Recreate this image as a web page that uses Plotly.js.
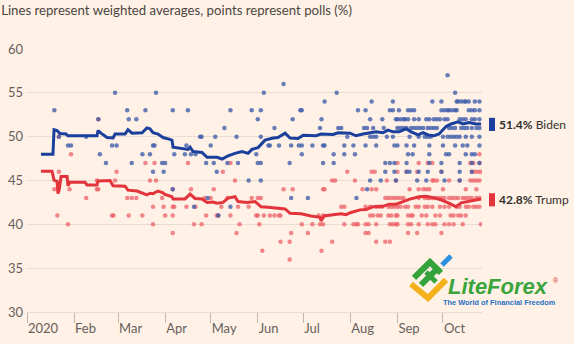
<!DOCTYPE html>
<html>
<head>
<meta charset="utf-8">
<script src="https://cdn.plot.ly/plotly-3.0.1.min.js"></script>
<style>html,body{margin:0;padding:0;background:#fff1e5;}#chart{width:574px;height:344px;}</style>
</head>
<body>
<div id="chart"></div>
<script>
// ---------- DATA (days since 1 Jan 2020, value in %) ----------
const tickMonths = ['2020-01-01','2020-02-01','2020-03-01','2020-04-01','2020-05-01','2020-06-01','2020-07-01','2020-08-01','2020-09-01','2020-10-01'];
const tickLabels = ['2020','Feb','Mar','Apr','May','Jun','Jul','Aug','Sep','Oct'];
const candidates = ['Biden','Trump'];
const finalValues = [51.4, 42.8];

const bidenAvgDays = [9.2,17.1,17.8,19.8,21.7,25.7,27,46.1,46.8,48.7,52.7,56.7,58,64.6,66.5,69.2,75.8,79,81,83,86.3,89.6,94.2,95.5,96.2,102.8,106.1,107.4,109.4,115.3,118.6,125.2,128.5,132.4,137,141.6,145.6,148.2,152.2,156.8,162.1,165.3,170,173.3,178.5,181.8,190.4,193.7,201.6,204.9,212.8,216.7,221.3,229.9,234.5,237.8,241.1,245.1,249.7,253,257.6,260.9,264.2,268.1,271.4,276,279.3,283.9,287.2,291.2,295.8,299.1];
const bidenAvgVals = [48.0,48.0,50.8,50.7,50.35,50.3,50.1,50.1,50.7,50.4,49.9,49.85,50.3,50.3,50.8,50.4,50.45,51.0,50.9,50.45,50.3,49.9,49.7,49.6,48.8,48.65,48.55,48.8,48.3,48.2,47.65,47.65,47.45,47.8,48.1,48.3,48.1,48.55,48.75,49.6,49.85,49.9,50.4,49.85,49.8,50.15,50.1,50.3,50.25,50.45,50.4,50.1,50.3,50.55,50.45,50.75,50.55,50.55,50.9,50.55,50.2,50.45,50.2,50.1,50.3,51.15,51.45,51.7,51.45,51.6,51.45,51.45];

const trumpAvgDays = [9.2,16.5,17.8,19.8,20.4,21.3,22.4,26.4,27,28.3,38.2,39.5,46.1,46.8,54.7,56.7,64.6,66.5,72.5,76.4,79,81,83,86.3,89.6,90.9,95.5,96.2,104.1,107.4,110.7,115.3,118.6,122.5,125.2,129.1,132.4,137,139,144.9,150.2,152.2,154.2,158.8,166.7,170,173.3,180.5,187.1,193,193.7,195.7,201.6,206.9,210.1,213.4,219.4,223.3,227.9,234.5,238.5,243.1,247.7,251.6,258.2,262.8,267.5,272.7,279.3,282.6,285.9,291.2,295.8,299.1];
const trumpAvgVals = [46.05,46.05,45.05,44.9,43.5,44.0,45.45,45.45,44.4,44.8,44.8,44.5,44.5,44.95,45.0,44.4,44.35,43.9,43.8,43.5,43.35,43.55,43.5,43.8,43.6,43.4,43.15,42.9,42.9,43.45,42.95,42.9,42.5,42.55,42.4,42.5,43.0,43.15,42.6,42.5,42.6,42.3,42.0,41.95,41.8,41.75,41.25,41.2,40.95,40.8,40.4,40.95,41.1,41.2,41.1,41.35,41.65,41.7,42.0,42.05,42.3,42.3,42.6,42.85,43.15,43.2,43.05,42.8,42.3,42.0,42.45,42.6,42.8,42.9];

const bidenPolls = [
[18,53],[21,50],[27,49],[29,49],[39,50],[47,52],[48,48],[52,47],[56,49],[58,55],[59,49],[66,53],[67,52],[69,47],[72,52],
[76,48],[78,53],[81,48],[83,49],[84,49],[83,46],[85,55],[89,47],[91,47],[90,46],[96,53],[96,44],[97,48],[104,48],[105,49],[106,53],[108,48],[111,48],[110,42],[114,50],[115,50],[118,47],[119,43],[121,49],[123,47],[124,50],[125,46],[126,41],[130,51],[132,47],[134,53],[134,42],[138,50],[139,47],[146,45],[148,53],
[151,48],[152,52],[152,47],[154,53],[154,50],[154,47],[154,45],[156,55],[159,49],[160,49],[163,51],[166,49],[169,56],[173,47],[174,49],[174,43],[175,52],[179,49],[180,53],[181,53],[181,49],[181,48],[185,43],[188,49],[193,51],[194,52],[195,49],[195,47],[196,49],[196,54],[202,48],[202,47],[204,55],[205,51],[207,51],[209,49],[209,48],[211,50],[215,49],[216,48],[217,43],[218,53],[222,51],[223,53],[223,49],
[277,57],[282,55],
[227,54],[241,54],[267,54],[273,54],[283,54],[284,54],[286,54],[288,54],[289,54],[291,54],[295,54],[298,54],
[239,53],[241,53],[245,53],[251,53],[253,53],[255,53],[273,53],[275,53],[277,53],[278,53],[280,53],[282,53],[283,53],[291,53],[293,53],[295,53],[298,53],
[226,52],[234,52],[243,52],[244,52],[246,52],[248,52],[249,52],[251,52],[255,52],[258,52],[263,52],[265,52],[268,52],[270,52],[272,52],[275,52],[277,52],[285,52],[287,52],[289,52],[293,52],[295,52],[298,52],
[224,51],[228,51],[235,51],[244,51],[246,51],[248,51],[250,51],[253,51],[255,51],[257,51],[259,51],[261,51],[264,51],[266,51],[268,51],[270,51],[278,51],[280,51],[282,51],[286,51],[288,51],[290,51],[293,51],[296,51],[298,51],
[226,50],[228,50],[230,50],[237,50],[241,50],[252,50],[258,50],[262,50],[264,50],[266,50],[274,50],[277,50],[279,50],[281,50],[283,50],[285,50],[289,50],[293,50],[298,50],
[230,49],[242,49],[244,49],[250,49],[255,49],[265,49],[274,49],[282,49],[287,49],[290,49],[298,49],
[251,48],[254,48],[265,48],[276,48],[278,48],[289,48],[293,48],[295,48],
[236,47],[239,47],[242,47],[250,47],[265,47],[273,47],[285,47],[293,47],[298,47],
[236,46],[242,46],[250,46],[252,46],[258,46],[264,46],[273,46],[285,46],[293,46],
[226,45],[233,45],[243,45],[257,45],[263,45],[275,45],[285,45],[224,44]
];

const trumpPolls = [
[47,52],[21,50],[29,48],[21,46],[59,46],[18,44],[28,44],[46,45],[46,44],[47,44],[58,45],[39,43],[66,43],[69,43],[72,43],[20,41],[56,41],[57,41],[67,41],[27,40],
[78,47],[84,47],[106,47],[134,47],[129,46],[81,45],[85,45],[137,45],[96,44],[108,44],[123,44],[89,43],[117,43],[121,43],[132,43],[148,43],[83,42],[90,42],[96,42],[97,42],[105,42],[111,42],[128,42],[139,42],[146,42],[76,41],[91,41],[96,41],[118,41],[125,41],[126,41],[134,41],[83,40],[110,40],[115,40],[140,40],[96,39],[138,39],
[211,46],[201,45],[203,45],[216,45],[169,44],[175,44],[195,44],[196,44],[221,44],[152,43],[154,43],[207,42],[209,42],[223,42],[151,41],[152,41],[156,41],[160,41],[163,41],[166,41],[167,41],[192,41],[195,41],[153,40],[181,40],[188,40],[193,40],[195,40],[209,40],[215,40],[217,40],[218,40],[174,39],[185,39],[223,39],[167,38],[173,38],[201,38],[155,37],[194,37],[173,36],
[298,48],
[244,47],[258,47],[264,47],[267,47],[292,47],[294,47],[298,47],
[227,46],[229,46],[244,46],[250,46],[257,46],[273,46],[293,46],[295,46],[297,46],[299,46],
[237,45],[243,45],[267,45],[268,45],[270,45],[278,45],[285,45],[292,45],[294,45],[296,45],[298,45],
[227,44],[230,44],[252,44],[258,44],[261,44],[263,44],[265,44],[274,44],[289,44],[296,44],
[236,43],[238,43],[240,43],[242,43],[244,43],[246,43],[248,43],[258,43],[262,43],[264,43],[265,43],[267,43],[269,43],[271,43],[273,43],[275,43],[278,43],[280,43],[282,43],[284,43],[287,43],[289,43],[291,43],[293,43],[296,43],[298,43],
[226,42],[230,42],[232,42],[234,42],[238,42],[240,42],[242,42],[244,42],[246,42],[249,42],[251,42],[256,42],[258,42],[262,42],[264,42],[267,42],[272,42],[275,42],[278,42],[283,42],[285,42],[289,42],[291,42],[294,42],[296,42],[298,42],
[226,41],[228,41],[231,41],[233,41],[238,41],[240,41],[243,41],[244,41],[251,41],[253,41],[254,41],[260,41],[263,41],[269,41],[272,41],[279,41],[281,41],[284,41],[286,41],[289,41],
[223,40],[225,40],[230,40],[239,40],[241,40],[243,40],[244,40],[251,40],[253,40],[258,40],[264,40],[267,40],[269,40],[275,40],[278,40],[281,40],[287,40],[299,40],
[225,39],[251,39],[257,39],[273,39],[230,38],[236,38],[239,38]
];

// ---------- helpers ----------
const base = Date.UTC(2020,0,1);
function dayToDate(d){ return new Date(base + d*86400000).toISOString().slice(0,19).replace('T',' '); }

const BLUE = '#1a3f9c', RED = '#e3343c';
const bgc = '#fff1e5', grid = '#e9dcd0', txt = '#66605c';

const traces = [
  {x: trumpPolls.map(p=>dayToDate(p[0])), y: trumpPolls.map(p=>p[1]), type:'scatter', mode:'markers',
   marker:{size:4.5, color:'rgba(236,92,100,0.72)'}, hoverinfo:'skip', name:'Trump polls'},
  {x: bidenPolls.map(p=>dayToDate(p[0])), y: bidenPolls.map(p=>p[1]), type:'scatter', mode:'markers',
   marker:{size:4.5, color:'rgba(62,92,172,0.78)'}, hoverinfo:'skip', name:'Biden polls'},
  {x: trumpAvgDays.map(dayToDate), y: trumpAvgVals, type:'scatter', mode:'lines',
   line:{color:RED, width:3}, name:'Trump'},
  {x: bidenAvgDays.map(dayToDate), y: bidenAvgVals, type:'scatter', mode:'lines',
   line:{color:BLUE, width:3}, name:'Biden'}
];

// layout geometry
const W=574, H=344, mL=27, mR=92, mT=49, mB=32;
const pw = W-mL-mR, ph = H-mT-mB;
const px = v => (v-mL)/pw;
const py = v => (H-mB-v)/ph;

const colors = [BLUE, RED];
const shapes = [];
const annotations = [];
candidates.forEach((c,i)=>{
  shapes.push({type:'rect', xref:'paper', yref:'y', x0:px(489), x1:px(495), y0:finalValues[i]-0.75, y1:finalValues[i]+0.75,
    fillcolor:colors[i], line:{width:0}});
  annotations.push({xref:'paper', yref:'y', x:px(497), y:finalValues[i], xanchor:'left', yanchor:'middle', showarrow:false,
    text:'<b>'+finalValues[i].toFixed(1)+'%</b> '+c, font:{family:'Lato, sans-serif', size:12, color:'#33302e'}});
});

// logo (decoration)
function pathOf(pts){ return pts.map((p,i)=>(i?'L':'M')+px(p[0]).toFixed(4)+','+py(p[1]).toFixed(4)).join(' '); }
shapes.push({type:'path', xref:'paper', yref:'paper', path:pathOf([[411,284],[428,298],[446,280]]), line:{color:'#f3b21c', width:6}});
shapes.push({type:'path', xref:'paper', yref:'paper', path:pathOf([[414,278],[430,262],[441,273]]), line:{color:'#35a33b', width:6}});
shapes.push({type:'path', xref:'paper', yref:'paper', path:pathOf([[421,285],[439,267]]), line:{color:'#35a33b', width:6}});
shapes.push({type:'path', xref:'paper', yref:'paper', path:pathOf([[426,272],[436,282]]), line:{color:'#35a33b', width:5}});
shapes.push({type:'path', xref:'paper', yref:'paper', path:pathOf([[442,265],[451,256]]), line:{color:'#2b8fe0', width:5}});
annotations.push({xref:'paper', yref:'paper', x:px(446), y:py(286), xanchor:'left', yanchor:'middle', showarrow:false,
  text:'<b><i>LiteForex</i></b>', font:{family:'Liberation Sans, Arial, sans-serif', size:22, color:'#3aa53c'}});
annotations.push({xref:'paper', yref:'paper', x:px(556), y:py(280), xanchor:'center', yanchor:'middle', showarrow:false,
  text:'®', font:{family:'Liberation Sans, Arial, sans-serif', size:7, color:'#d2232a'}});
annotations.push({xref:'paper', yref:'paper', x:px(499.5), y:py(302.5), xanchor:'center', yanchor:'middle', showarrow:false,
  text:'<b>The World of Financial Freedom</b>', font:{family:'Liberation Sans, Arial, sans-serif', size:7.4, color:'#1f6fc4'}});

const layout = {
  width:W, height:H, margin:{l:mL, r:mR, t:mT, b:mB, pad:0},
  paper_bgcolor:bgc, plot_bgcolor:bgc, showlegend:false,
  font:{family:'Lato, sans-serif', color:txt, size:13},
  title:{text:'Lines represent weighted averages, points represent polls (%)', xref:'container', yref:'container',
    x:0.002, xanchor:'left', y:1-10/H, yanchor:'middle', font:{family:'Lato, sans-serif', size:13.2, color:'#4b4643'}},
  xaxis:{type:'date', range:[dayToDate(0), dayToDate(299.7)], tickvals:tickMonths, ticktext:tickLabels,
    ticks:'outside', ticklen:10, tickcolor:'#c2b6ab', tickwidth:1, ticklabelposition:'outside right', ticklabelstandoff:4,
    showgrid:false, showline:true, linecolor:grid, linewidth:1, zeroline:false,
    tickfont:{family:'Lato, sans-serif', size:13, color:txt}},
  yaxis:{range:[30,60], dtick:5, tick0:30, showgrid:true, gridcolor:grid, gridwidth:1, zeroline:false, showline:false,
    ticks:'', ticklabelstandoff:3, tickfont:{family:'Lato, sans-serif', size:13, color:txt}},
  shapes:shapes, annotations:annotations
};

Plotly.newPlot('chart', traces, layout, {displayModeBar:false, staticPlot:true});
</script>
</body>
</html>
